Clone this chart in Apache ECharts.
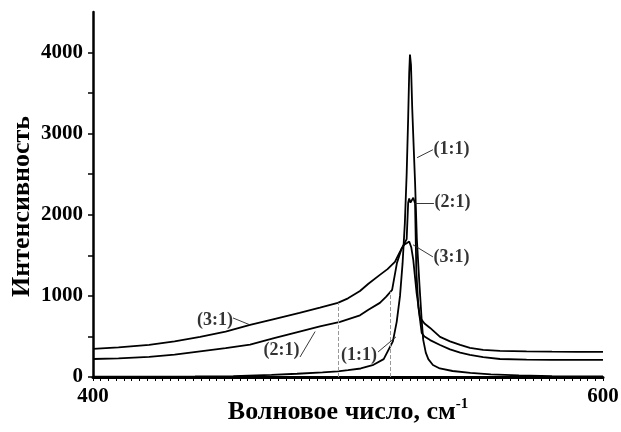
<!DOCTYPE html>
<html>
<head>
<meta charset="utf-8">
<script src="https://cdn.jsdelivr.net/npm/echarts@6/dist/echarts.min.js"></script>
<style>
html,body{margin:0;padding:0;background:#fff;}
#chart{width:621px;height:432px;}
</style>
</head>
<body>
<div id="chart"></div>
<script>
// Wavenumber (cm^-1) and intensity for each ratio
const x11 = [400, 420, 440, 455, 470, 480, 490, 496, 500, 505, 510, 514, 517.6, 519.1, 520.4, 521.4, 522.3, 523, 523.6, 524, 524.3, 524.7, 525.2, 525.8, 526.3, 527, 528, 528.9, 529.5, 530.5, 531.5, 533.3, 536, 541, 548, 556, 567, 580, 600];
const y11 = [5, 5, 6, 10, 25, 40, 58, 70, 85, 105, 150, 220, 440, 680, 1000, 1400, 1900, 2500, 3200, 3750, 3975, 3850, 3300, 2800, 2400, 1700, 1150, 700, 457, 300, 220, 148, 105, 74, 50, 32, 20, 12, 8];

const x21 = [400, 410, 422, 432, 442, 452, 461.6, 471, 481, 489, 496.9, 504.7, 508, 512.5, 515, 517.3, 519.2, 521, 522, 523, 523.6, 524, 524.5, 525, 525.6, 526.3, 526.8, 527.6, 528.9, 530, 532.2, 536.1, 540, 544, 547.8, 553, 559.6, 570, 580, 590, 600];
const y21 = [222, 230, 247, 275, 315, 355, 400, 480, 560, 625, 679, 760, 830, 914, 990, 1074, 1407, 1580, 1640, 1700, 2150, 2200, 2150, 2170, 2210, 2140, 1300, 864, 543, 500, 455, 395, 340, 300, 272, 245, 222, 215, 212, 211, 210];

const x31 = [400, 410, 422, 432, 442, 452, 461.6, 471, 481, 489, 496, 500, 504.7, 508, 512.5, 515.5, 518.4, 520, 521, 522, 523, 524, 524.8, 525.6, 526.9, 528.2, 528.9, 530, 532.2, 536.1, 540, 544, 547.8, 553, 559.6, 570, 580, 590, 600];
const y31 = [346, 365, 395, 440, 494, 560, 642, 715, 790, 855, 914, 970, 1060, 1150, 1259, 1330, 1420, 1520, 1580, 1630, 1650, 1670, 1600, 1444, 1037, 740, 704, 660, 605, 494, 440, 395, 358, 335, 321, 315, 312, 310, 309];

// Axis ticks
const yLabelValues = [0, 1000, 2000, 3000, 4000];
const yTickValues = [0, 500, 1000, 1500, 2000, 2500, 3000, 3500, 4000];

// Dashed drop lines (x, top y)
const dropX = [496, 516.5];
const dropY = [914, 1050];

// Curve annotations
const noteTexts = ['(1:1)', '(2:1)', '(3:1)', '(3:1)', '(2:1)', '(1:1)'];
const noteCenter = [[540.6, 2802], [541.0, 2148], [540.6, 1481], [447.8, 704], [473.9, 333], [504.3, 272]];
const leaderFrom = [[527.1, 2704], [526.3, 2148], [525.5, 1630], [461.6, 642], [487.1, 560], [518.8, 494]];
const leaderTo = [[533.3, 2802], [533.7, 2148], [533.3, 1481], [454.9, 728], [481.2, 247], [511.8, 309]];

const zip = (xs, ys) => xs.map((x, i) => [x, ys[i]]);
const serif = 'Liberation Serif';

const chart = echarts.init(document.getElementById('chart'), null, {renderer: 'canvas'});
const lineStyle = {color: '#000', width: 1.8};

chart.setOption({
  animation: false,
  backgroundColor: '#fff',
  grid: {left: 93, right: 18, top: 12, bottom: 55, containLabel: false, outerBoundsMode: 'none'},
  xAxis: {
    type: 'value', min: 400, max: 600, interval: 200,
    axisLine: {show: true, onZero: false, lineStyle: {color: '#000', width: 3}},
    axisTick: {show: true, length: 4, lineStyle: {color: '#000', width: 1}},
    minorTick: {show: true, splitNumber: 66, length: 4, lineStyle: {color: '#000', width: 1}},
    splitLine: {show: false},
    axisLabel: {color: '#000', fontFamily: serif, fontWeight: 'bold', fontSize: 21, margin: 9},
    name: '{a|Волновое число, см}{s|-1}',
    nameLocation: 'middle', nameGap: 20, nameMoveOverlap: false,
    nameTextStyle: {
      rich: {
        a: {fontFamily: serif, fontWeight: 'bold', fontSize: 26, color: '#000', lineHeight: 28},
        s: {fontFamily: serif, fontWeight: 'bold', fontSize: 15, color: '#000', padding: [0, 0, 16, 0]}
      }
    }
  },
  yAxis: {
    type: 'value', min: 0, max: 4500, interval: 500,
    axisLine: {show: true, lineStyle: {color: '#000', width: 2.5}},
    axisTick: {show: true, length: 5, customValues: yTickValues, lineStyle: {color: '#000', width: 1.5}},
    splitLine: {show: false},
    axisLabel: {color: '#000', fontFamily: serif, fontWeight: 'bold', fontSize: 21, margin: 10,
      customValues: yLabelValues, formatter: v => String(v)},
    name: 'Интенсивность',
    nameLocation: 'middle', nameGap: 58, nameRotate: 90, nameMoveOverlap: false,
    nameTextStyle: {fontFamily: serif, fontWeight: 'bold', fontSize: 26, color: '#000', padding: [0, 24, 0, 0]}
  },
  series: [
    {type: 'line', name: '1:1', data: zip(x11, y11), symbol: 'none', lineStyle: lineStyle, z: 3},
    {type: 'line', name: '2:1', data: zip(x21, y21), symbol: 'none', lineStyle: lineStyle, z: 3},
    {type: 'line', name: '3:1', data: zip(x31, y31), symbol: 'none', lineStyle: lineStyle, z: 3,
      markLine: {
        silent: true, symbol: ['none', 'none'], label: {show: false},
        lineStyle: {color: '#999', type: 'dashed', width: 1},
        data: dropX.map((x, i) => [{coord: [x, 0]}, {coord: [x, dropY[i]]}])
      }
    },
    {type: 'scatter', name: 'notes', symbolSize: 0, silent: true, z: 4,
      data: noteCenter.map((c, i) => ({value: c, name: noteTexts[i]})),
      label: {show: true, position: 'inside', formatter: p => p.name, color: '#000',
        fontFamily: serif, fontWeight: 'bold', fontSize: 18},
      markLine: {
        silent: true, symbol: ['none', 'none'], label: {show: false},
        lineStyle: {color: '#222', type: 'solid', width: 0.9},
        data: leaderFrom.map((f, i) => [{coord: f}, {coord: leaderTo[i]}])
      }
    }
  ]
});
</script>
</body>
</html>
